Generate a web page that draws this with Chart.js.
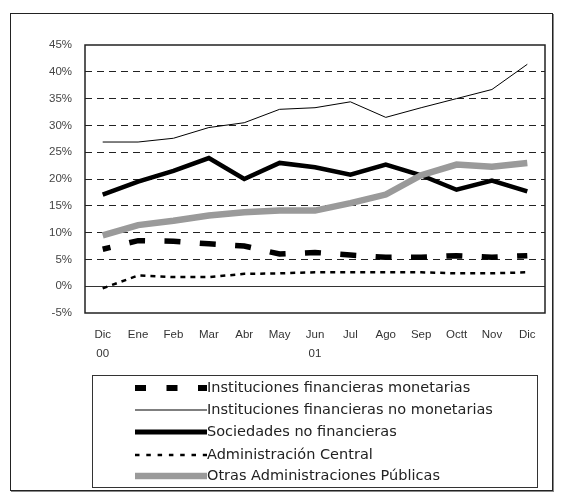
<!DOCTYPE html>
<html><head><meta charset="utf-8">
<script src="https://cdn.jsdelivr.net/npm/chart.js@4.4.1/dist/chart.umd.min.js"></script>
<style>
html,body{margin:0;padding:0;background:#fff;width:563px;height:499px;overflow:hidden}
#frame{position:absolute;left:10px;top:13px;width:541px;height:476px;border:1px solid #222;box-shadow:1px 1px 0 #888}
#c{position:absolute;left:0;top:0}
</style></head><body>
<div id="frame"></div>
<canvas id="c" width="563" height="499"></canvas>
<script>
const categories = [['Dic','00'],'Ene','Feb','Mar','Abr','May',['Jun','01'],'Jul','Ago','Sep','Octt','Nov','Dic'];
const seriesNames = ['Instituciones financieras monetarias','Instituciones financieras no monetarias','Sociedades no financieras','Administración Central','Otras Administraciones Públicas'];
const ifmValues  = [6.9, 8.5, 8.4, 7.9, 7.5, 6.0, 6.3, 5.8, 5.4, 5.4, 5.7, 5.4, 5.7];
const ifnmValues = [26.9, 26.9, 27.6, 29.6, 30.5, 33.0, 33.3, 34.4, 31.5, 33.3, 35.0, 36.7, 41.4];
const snfValues  = [17.1, 19.5, 21.5, 23.9, 20.0, 23.0, 22.2, 20.8, 22.7, 20.7, 18.0, 19.7, 17.7];
const acValues   = [-0.4, 2.0, 1.7, 1.7, 2.3, 2.4, 2.6, 2.6, 2.6, 2.6, 2.4, 2.4, 2.6];
const oapValues  = [9.5, 11.4, 12.2, 13.2, 13.8, 14.1, 14.1, 15.5, 17.1, 20.7, 22.7, 22.3, 23.0];
const yTicks = [-5, 0, 5, 10, 15, 20, 25, 30, 35, 40, 45];

const frameLines = {
  id: 'frameLines',
  beforeDatasetsDraw(chart) {
    const {ctx, chartArea: a, scales: {y}} = chart;
    const y0 = Math.round(y.getPixelForValue(0)) + 0.5;
    ctx.save();
    ctx.strokeStyle = '#333'; ctx.lineWidth = 1;
    ctx.beginPath(); ctx.moveTo(a.left, y0); ctx.lineTo(a.right, y0); ctx.stroke();
    ctx.restore();
  },
  afterDatasetsDraw(chart) {
    const {ctx, chartArea: a} = chart;
    ctx.save();
    ctx.strokeStyle = '#222'; ctx.lineWidth = 1.5;
    ctx.strokeRect(a.left, a.top, a.right - a.left, a.bottom - a.top);
    ctx.restore();
  }
};

const boxLegend = {
  id: 'boxLegend',
  afterDraw(chart) {
    const ctx = chart.ctx;
    ctx.save();
    ctx.strokeStyle = '#333'; ctx.lineWidth = 1;
    ctx.strokeRect(92.5, 375.5, 445, 112);
    const rowY = [388, 410, 432, 455, 476];
    chart.data.datasets.forEach((ds, i) => {
      const y = rowY[i];
      ctx.beginPath();
      ctx.lineWidth = ds.legendWidth;
      ctx.strokeStyle = ds.borderColor;
      ctx.lineCap = 'butt';
      ctx.setLineDash(ds.legendDash || []);
      ctx.moveTo(135, y); ctx.lineTo(207, y); ctx.stroke();
      ctx.setLineDash([]);
      ctx.fillStyle = '#222';
      ctx.font = '14.5px "DejaVu Sans"';
      ctx.textBaseline = 'middle'; ctx.textAlign = 'left';
      ctx.fillText(ds.label, 207, y + 0.5);
    });
    ctx.restore();
  }
};

new Chart(document.getElementById('c'), {
  type: 'line',
  data: {
    labels: categories,
    datasets: [
      {label: seriesNames[0], data: ifmValues, borderColor: '#000', borderWidth: 5.5, borderDash: [16, 19.4], borderDashOffset: 8, legendWidth: 6, legendDash: [11, 20.5]},
      {label: seriesNames[1], data: ifnmValues, borderColor: '#000', borderWidth: 1, legendWidth: 1.2},
      {label: seriesNames[2], data: snfValues, borderColor: '#000', borderWidth: 4.5, legendWidth: 5},
      {label: seriesNames[3], data: acValues, borderColor: '#000', borderWidth: 2.5, borderDash: [5, 5], legendWidth: 2.5, legendDash: [4.5, 6.8]},
      {label: seriesNames[4], data: oapValues, borderColor: '#9a9a9a', borderWidth: 6.5, legendWidth: 6.5, order: -1}
    ]
  },
  options: {
    responsive: false,
    animation: false,
    events: [],
    layout: {padding: {top: 45, left: 10, right: 18, bottom: 126}},
    elements: {point: {radius: 0}, line: {tension: 0, fill: false, borderCapStyle: 'butt'}},
    plugins: {legend: {display: false}, tooltip: {enabled: false}},
    scales: {
      x: {
        offset: true,
        grid: {display: false, drawTicks: false},
        border: {display: false},
        ticks: {color: '#333', padding: 12, maxRotation: 0, autoSkip: false, font: {family: '"Liberation Sans"', size: 11.5, lineHeight: 1.65}},
        afterFit: (s) => { s.height = 60; }
      },
      y: {
        min: -5, max: 45,
        afterBuildTicks: (s) => { s.ticks = yTicks.map(v => ({value: v})); },
        grid: {
          drawTicks: false,
          lineWidth: 1,
          color: (c) => (c.tick && (c.tick.value === 0 || c.tick.value === -5 || c.tick.value === 45)) ? 'rgba(0,0,0,0)' : '#222'
        },
        border: {display: false, dash: [7, 5]},
        ticks: {color: '#444', padding: 13, font: {family: '"Liberation Sans"', size: 11.5}, callback: (v) => v + '%'},
        afterFit: (s) => { s.width = 75; }
      }
    }
  },
  plugins: [frameLines, boxLegend]
});
</script>
</body></html>
